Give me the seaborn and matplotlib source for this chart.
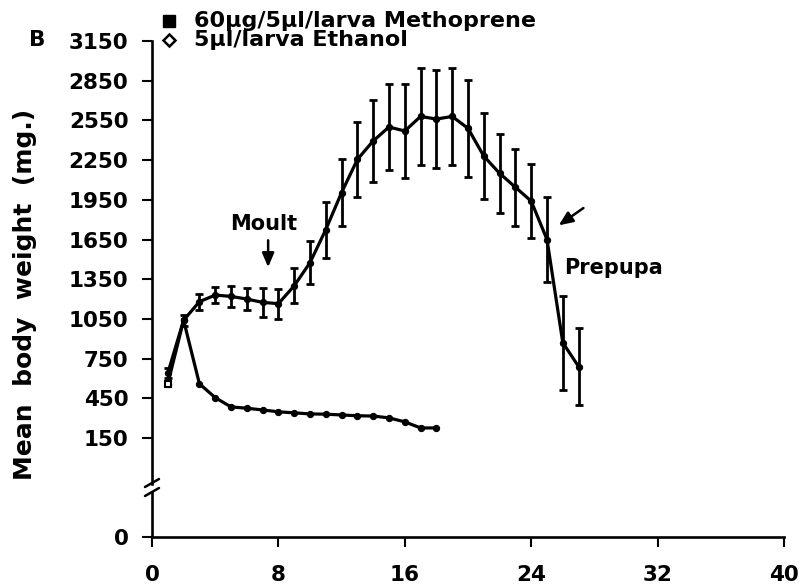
import numpy as np
import pandas as pd
import matplotlib
matplotlib.use("Agg")
import matplotlib.pyplot as plt
from matplotlib.lines import Line2D
import seaborn as sns

# Larval body weight after topical treatment
meth_days = list(range(1, 28))
meth_weight = [640, 1040, 1180, 1230, 1220, 1200, 1175, 1165, 1300, 1475,
               1725, 2005, 2255, 2395, 2500, 2470, 2580, 2560, 2580, 2490,
               2280, 2150, 2045, 1940, 1650, 870, 690]
meth_err = [40, 40, 60, 63, 78, 85, 107, 114, 133, 164, 212, 251, 282, 312,
            323, 354, 369, 371, 369, 364, 323, 298, 290, 282, 322, 354, 292]

eth_days = list(range(1, 19))
eth_weight = [560, 1040, 560, 455, 385, 375, 362, 348, 340, 332, 330, 324,
              318, 316, 302, 272, 226, 226]

x_ticks = [0, 8, 16, 24, 32, 40]
y_ticks = [150, 450, 750, 1050, 1350, 1650, 1950, 2250, 2550, 2850, 3150]

label_meth = "60µg/5µl/larva Methoprene"
label_eth = "5µl/larva Ethanol"

sns.set_theme(style="ticks")
plt.rcParams["font.family"] = ["DejaVu Sans"]
plt.rcParams["font.weight"] = "bold"

W, H = 811, 586
FS = 15.5
fig = plt.figure(figsize=(W / 100, H / 100), dpi=100)
fig.patch.set_facecolor("white")


def fx(p):
    return p / W


def fy(p):
    return 1 - p / H


# pixel geometry of the plotting area
x0_px, x1_px = 152, 784
top_px, y150_px = 41, 438
upper_bot_px = 484
lower_top_px, zero_px = 492, 537
per_px = (3150 - 150) / (y150_px - top_px)
upper_ymin = 150 - (upper_bot_px - y150_px) * per_px

ax = fig.add_axes([fx(x0_px), fy(upper_bot_px), (x1_px - x0_px) / W,
                   (upper_bot_px - top_px) / H])
axb = fig.add_axes([fx(x0_px), fy(zero_px), (x1_px - x0_px) / W,
                    (zero_px - lower_top_px) / H])

for a in (ax, axb):
    a.set_facecolor("white")
    a.set_xlim(0, 40)
    for s in a.spines.values():
        s.set_linewidth(1.9)
        s.set_color("black")
    a.spines["top"].set_visible(False)
    a.spines["right"].set_visible(False)
    a.tick_params(axis="both", length=7, width=1.5, color="black",
                  labelsize=FS, labelcolor="black")

ax.spines["bottom"].set_visible(False)
ax.set_ylim(upper_ymin, 3150)
ax.set_yticks(y_ticks)
ax.set_yticklabels([str(v) for v in y_ticks], fontweight="bold")
ax.tick_params(axis="y", pad=10)
ax.set_xticks([])

axb.set_ylim(0, 1)
axb.set_yticks([0])
axb.set_yticklabels(["0"], fontweight="bold")
axb.tick_params(axis="y", pad=10)
axb.set_xticks(x_ticks)
axb.set_xticklabels([str(v) for v in x_ticks], fontweight="bold")
axb.tick_params(axis="x", pad=13)

df_m = pd.DataFrame({"day": meth_days, "weight": meth_weight, "err": meth_err})
df_e = pd.DataFrame({"day": eth_days, "weight": eth_weight})

ax.errorbar(df_m["day"], df_m["weight"], yerr=df_m["err"], fmt="none",
            ecolor="black", elinewidth=2.0, capsize=3, capthick=2.0, zorder=3)
sns.lineplot(data=df_m, x="day", y="weight", ax=ax, color="black",
             linewidth=2.3, marker="o", markersize=4.5,
             markeredgecolor="black", zorder=4)
sns.lineplot(data=df_e, x="day", y="weight", ax=ax, color="black",
             linewidth=2.3, marker="o", markersize=4.5,
             markeredgecolor="black", zorder=4)
ax.plot(df_e["day"].iloc[:1], df_e["weight"].iloc[:1], marker="s",
        markersize=5, markerfacecolor="white", markeredgecolor="black",
        markeredgewidth=1.5, linestyle="none", zorder=5)
ax.set_xlabel("")
ax.set_ylabel("")
axb.set_xlabel("")
axb.set_ylabel("")

# annotations
ax.annotate("", xy=(7.35, 1420), xytext=(7.35, 1665),
            arrowprops=dict(arrowstyle="-|>,head_length=0.7,head_width=0.3",
                            color="black", lw=1.8))
ax.text(7.1, 1770, "Moult", ha="center", va="center", fontsize=FS - 0.5,
        fontweight="bold", color="black")
ax.annotate("", xy=(25.6, 1745), xytext=(27.45, 1900),
            arrowprops=dict(arrowstyle="-|>,head_length=0.7,head_width=0.3",
                            color="black", lw=1.8))
ax.text(26.1, 1435, "Prepupa", ha="left", va="center", fontsize=FS - 0.5,
        fontweight="bold", color="black")

# axis break marks
for cy in (483, 492):
    fig.add_artist(Line2D([fx(x0_px - 7), fx(x0_px + 7)],
                          [fy(cy + 4), fy(cy - 4)], color="black", lw=1.8))

# y-axis title and panel letter
fig.text(fx(25), fy(294), "Mean  body  weight  (mg.)", rotation=90,
         ha="center", va="center", fontsize=FS + 2.5, fontweight="bold",
         color="black")
fig.text(fx(37), fy(40), "B", ha="center", va="center", fontsize=FS,
         fontweight="bold", color="black")

# legend
fig.add_artist(Line2D([fx(169)], [fy(21)], marker="s", markersize=8,
                      color="black", linestyle="none"))
fig.add_artist(Line2D([fx(169)], [fy(40)], marker="D", markersize=6,
                      markerfacecolor="white", markeredgecolor="black",
                      markeredgewidth=1.8, linestyle="none"))
fig.text(fx(194), fy(21), label_meth, ha="left", va="center", fontsize=FS + 0.5,
         fontweight="bold", color="black")
fig.text(fx(194), fy(40), label_eth, ha="left", va="center", fontsize=FS + 0.5,
         fontweight="bold", color="black")

fig.savefig("out.png", dpi=100, facecolor="white")
